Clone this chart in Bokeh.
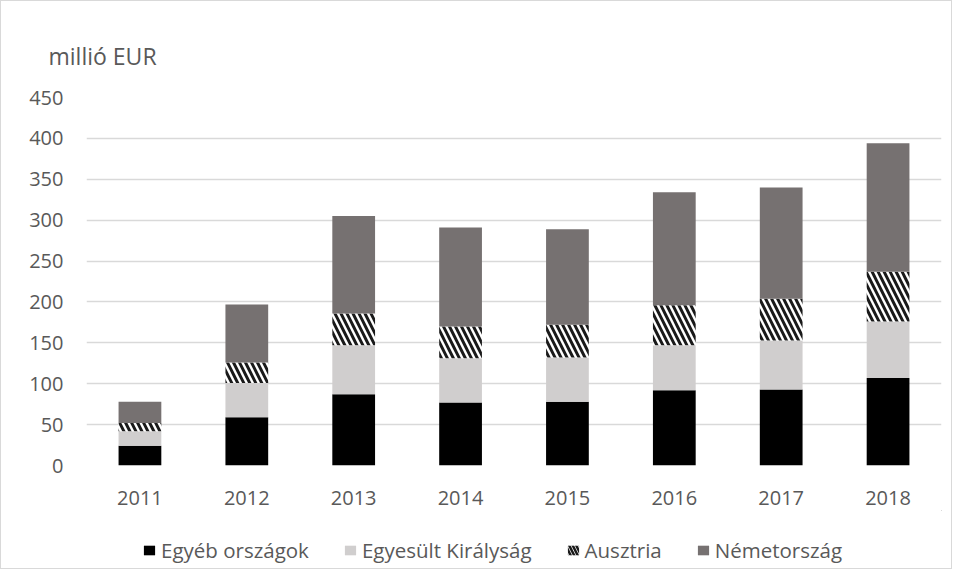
from bokeh.plotting import figure
from bokeh.layouts import column
from bokeh.models import (FactorRange, Range1d, FixedTicker, Legend, LegendItem,
                          Title, ColumnDataSource)
from bokeh.embed import file_html
from bokeh.resources import INLINE

years = ["2011", "2012", "2013", "2014", "2015", "2016", "2017", "2018"]
egyeb = [24, 59, 87, 77, 78, 92, 93, 107]
egyesult_kiralysag = [18, 42, 60, 54, 54, 55, 60, 69]
ausztria = [10, 25, 39, 39, 40, 49, 51, 61]
nemetorszag = [26, 71, 119, 121, 117, 138, 136, 157]
series_names = ["Egyéb országok", "Egyesült Királyság", "Ausztria", "Németország"]
y_ticks = [0, 50, 100, 150, 200, 250, 300, 350, 400, 450]
unit_label = "millió EUR"

keys = ["egyeb", "uk", "at", "de"]
colors = ["#000000", "#d0cece", "#ffffff", "#767171"]
source = ColumnDataSource(dict(years=years, egyeb=egyeb, uk=egyesult_kiralysag,
                               at=ausztria, de=nemetorszag))

FONT = "Open Sans"
TXT = "#595959"
GRID = "#d9d9d9"
W = 950

p = figure(x_range=FactorRange(*years), y_range=Range1d(0, 450),
           frame_width=855, frame_height=368,
           min_border_left=85, min_border_top=96, min_border_right=10, min_border_bottom=45,
           output_backend="svg", toolbar_location=None)

renderers = p.vbar_stack(keys, x="years", width=0.4, source=source,
                         color=colors, line_color=None)
renderers[2].glyph.hatch_pattern = "\\"
renderers[2].glyph.hatch_color = "#1a1a1a"
renderers[2].glyph.hatch_scale = 12
renderers[2].glyph.hatch_weight = 3

p.outline_line_color = None
p.xgrid.grid_line_color = None
p.ygrid.grid_line_color = GRID
p.ygrid.grid_line_width = 1.5
p.yaxis.ticker = FixedTicker(ticks=y_ticks)
p.ygrid.ticker = FixedTicker(ticks=y_ticks)

for ax in (p.xaxis, p.yaxis):
    ax.axis_line_color = None
    ax.major_tick_line_color = None
    ax.minor_tick_line_color = None
    ax.major_tick_out = 0
    ax.major_tick_in = 0
    ax.major_label_text_font = FONT
    ax.major_label_text_font_size = "20px"
    ax.major_label_text_color = TXT
p.yaxis.major_label_standoff = 23
p.xaxis.major_label_standoff = 25

p.add_layout(Title(text=unit_label, align="left", offset=-38, standoff=52,
                   text_font=FONT, text_font_size="23px", text_color=TXT,
                   text_font_style="normal", vertical_align="bottom"), "above")

# legend row as its own small figure below the chart
lf = figure(width=W, height=58, x_range=Range1d(0, 1), y_range=Range1d(0, 1),
            min_border=0, output_backend="svg", toolbar_location=None,
            x_axis_type=None, y_axis_type=None)
lf.outline_line_color = None
lf.xgrid.grid_line_color = None
lf.ygrid.grid_line_color = None
dummy = []
for i, c in enumerate(colors):
    # a single bar placed outside the visible range: only its legend swatch shows
    r = lf.vbar(x=[5], top=[5], bottom=[4], width=0.1, color=c, line_color=None)
    if i == 2:
        r.glyph.hatch_pattern = "\\"
        r.glyph.hatch_color = "#1a1a1a"
        r.glyph.hatch_scale = 7
        r.glyph.hatch_weight = 2.5
    dummy.append(r)

items = [LegendItem(label=n, renderers=[r]) for n, r in zip(series_names, dummy)]
legend = Legend(items=items, orientation="horizontal", location=(56, 4),
                glyph_width=14, glyph_height=12, label_height=12, label_standoff=5,
                spacing=34, padding=0, margin=0, border_line_color=None,
                background_fill_alpha=0, label_text_font=FONT,
                label_text_font_size="20.5px", label_text_color=TXT)
lf.add_layout(legend, "center")

layout = column(p, lf, spacing=0, styles={"border": "1px solid #d9d9d9"})
open("out.html", "w").write(file_html(layout, INLINE))
